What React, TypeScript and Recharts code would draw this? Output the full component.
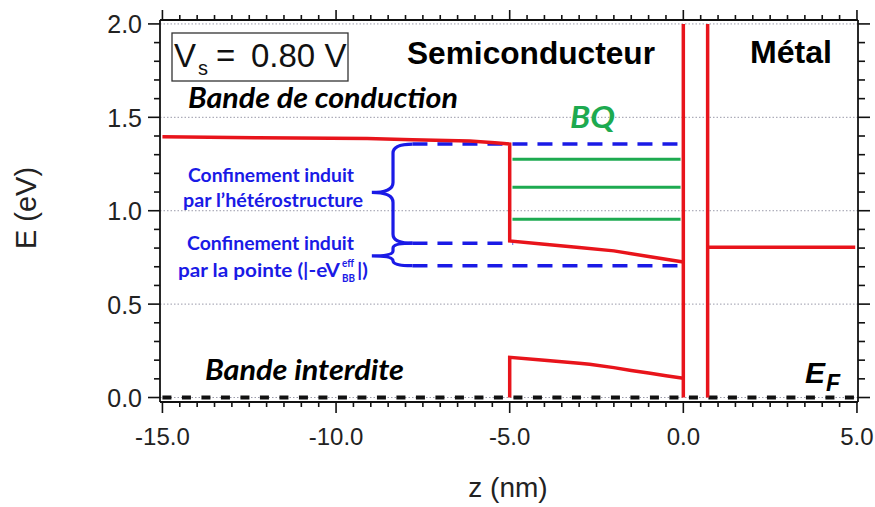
import React from 'react';
import { LineChart, Line, XAxis, YAxis, ReferenceLine } from 'recharts';

const W = 875;
const H = 507;
const Z_DOMAIN: [number, number] = [-15.07, 5.03];
const E_DOMAIN: [number, number] = [-0.024, 2.021];
const PLOT = { left: 160, right: 858, top: 20, bottom: 402 };

const ARIAL = '"Liberation Sans", Arial, sans-serif';
const CALIBRI = 'Lato, "Open Sans", sans-serif';
const AXIS = '#111';
const RED = '#e8141b';
const BLUE = '#1a1ae6';
const GREEN = '#1daa50';

// tick labels
const xMajor = [-15, -10, -5, 0, 5];
const yMajor = [0, 0.5, 1.0, 1.5, 2.0];
const xTicks = Array.from({ length: 41 }, (_, i) => -15 + i * 0.5);
const yTicks = Array.from({ length: 21 }, (_, i) => i / 10);

// conduction band, semiconductor side (z in nm, E in eV)
const cbOuter = [
  { z: -15, E: 1.396 },
  { z: -12.25, E: 1.391 },
  { z: -9.1, E: 1.386 },
  { z: -7.8, E: 1.38 },
  { z: -6.15, E: 1.373 },
  { z: -5.43, E: 1.364 },
  { z: -5, E: 1.357 },
  { z: -5, E: 0.838 },
  { z: -4, E: 0.82 },
  { z: -3, E: 0.803 },
  { z: -2, E: 0.785 },
  { z: -1, E: 0.755 },
  { z: 0, E: 0.726 },
];
// valence band top in the quantum well region
const vbWell = [
  { z: -5, E: 0 },
  { z: -5, E: 0.215 },
  { z: -4, E: 0.199 },
  { z: -3, E: 0.183 },
  { z: -2.7, E: 0.178 },
  { z: -2, E: 0.16 },
  { z: -1.5, E: 0.145 },
  { z: -1, E: 0.131 },
  { z: -0.5, E: 0.117 },
  { z: 0, E: 0.103 },
];
// vacuum barrier edges and metal Fermi level
const barrierLeft = [{ z: 0, E: 0 }, { z: 0, E: 2.0 }];
const barrierRight = [{ z: 0.7, E: 0 }, { z: 0.7, E: 2.0 }];
const metalLevel = [{ z: 0.7, E: 0.805 }, { z: 4.95, E: 0.805 }];
// quantum bound states (BQ)
const bq1 = [{ z: -4.92, E: 1.275 }, { z: -0.08, E: 1.275 }];
const bq2 = [{ z: -4.92, E: 1.126 }, { z: -0.08, E: 1.126 }];
const bq3 = [{ z: -4.92, E: 0.954 }, { z: -0.08, E: 0.954 }];
// confinement reference levels (blue dashed)
const confTop = [{ z: -7.8, E: 1.357 }, { z: 0, E: 1.357 }];
const confMid = [{ z: -7.8, E: 0.826 }, { z: -4.9, E: 0.826 }];
const confBot = [{ z: -7.8, E: 0.706 }, { z: 0, E: 0.706 }];
// Fermi level
const fermi = [{ z: -15, E: 0 }, { z: 4.95, E: 0 }];

const isMajor = (v: number, step: number) => Math.abs(v / step - Math.round(v / step)) < 1e-6;

const px = (z: number) => PLOT.left + ((z - Z_DOMAIN[0]) / (Z_DOMAIN[1] - Z_DOMAIN[0])) * (PLOT.right - PLOT.left);
const py = (e: number) => PLOT.top + ((E_DOMAIN[1] - e) / (E_DOMAIN[1] - E_DOMAIN[0])) * (PLOT.bottom - PLOT.top);

const BottomTick = ({ x, y, payload }: any) => {
  const major = isMajor(payload.value, 5);
  return (
    <g>
      <line x1={x} x2={x} y1={y} y2={y + (major ? 11 : 5)} stroke={AXIS} strokeWidth={1.6} />
      {major && (
        <text x={x} y={y + 43} textAnchor="middle" fontSize={24} fill="#222" fontFamily={ARIAL}>
          {payload.value.toFixed(1)}
        </text>
      )}
    </g>
  );
};

const TopTick = ({ x, y, payload }: any) => {
  const major = isMajor(payload.value, 5);
  return <line x1={x} x2={x} y1={y} y2={y - (major ? 10 : 5)} stroke={AXIS} strokeWidth={1.6} />;
};

const LeftTick = ({ x, y, payload }: any) => {
  const major = isMajor(payload.value, 0.5);
  return (
    <g>
      <line x1={x} x2={x - (major ? 12 : 6)} y1={y} y2={y} stroke={AXIS} strokeWidth={1.6} />
      {major && (
        <text x={x - 18} y={y + 9.5} textAnchor="end" fontSize={25} fill="#222" fontFamily={ARIAL}>
          {payload.value.toFixed(1)}
        </text>
      )}
    </g>
  );
};

const RightTick = ({ x, y, payload }: any) => {
  const major = isMajor(payload.value, 0.5);
  return <line x1={x} x2={x + (major ? 12 : 7)} y1={y} y2={y} stroke={AXIS} strokeWidth={1.6} />;
};

// curly brace opening to the right, between two energies
const bracePath = (eTop: number, eBot: number, eTip: number, r: number, r2: number) => {
  const xs = px(-8.36);
  const xt = px(-8.97);
  const xe = px(-7.8);
  const y1 = py(eTop);
  const y2 = py(eBot);
  const ym = py(eTip);
  return `M ${xe} ${y1} Q ${xs} ${y1} ${xs} ${y1 + r} L ${xs} ${ym - r2} Q ${xs} ${ym} ${xt} ${ym} Q ${xs} ${ym} ${xs} ${ym + r2} L ${xs} ${y2 - r} Q ${xs} ${y2} ${xe} ${y2}`;
};

const series = [
  { key: 'cb', data: cbOuter, color: RED, width: 3.5 },
  { key: 'vb', data: vbWell, color: RED, width: 3.5 },
  { key: 'bl', data: barrierLeft, color: RED, width: 3.5 },
  { key: 'br', data: barrierRight, color: RED, width: 3.5 },
  { key: 'metal', data: metalLevel, color: RED, width: 3.5 },
  { key: 'bq1', data: bq1, color: GREEN, width: 3 },
  { key: 'bq2', data: bq2, color: GREEN, width: 3 },
  { key: 'bq3', data: bq3, color: GREEN, width: 3 },
];

const dashed = [
  { key: 'ct', data: confTop, color: BLUE, width: 3.5, dash: '15 10' },
  { key: 'cm', data: confMid, color: BLUE, width: 3.5, dash: '15 10' },
  { key: 'cbt', data: confBot, color: BLUE, width: 3.5, dash: '15 10' },
  { key: 'ef', data: fermi, color: '#111', width: 4, dash: '9 10.5' },
];

export default function App() {
  return (
    <div style={{ position: 'relative', width: W, height: H, background: '#fff' }}>
      <style>{'body{margin:0}'}</style>
      <LineChart width={W} height={H} margin={{ top: 0, right: 0, left: 100, bottom: 45 }}>
        <XAxis
          xAxisId="b"
          dataKey="z"
          type="number"
          domain={Z_DOMAIN}
          allowDataOverflow
          ticks={xTicks}
          interval={0}
          tickSize={0}
          tickMargin={0}
          tickLine={false}
          tick={<BottomTick />}
          height={60}
          axisLine={{ stroke: AXIS, strokeWidth: 1.8 }}
        />
        <XAxis
          xAxisId="t"
          orientation="top"
          dataKey="z"
          type="number"
          domain={Z_DOMAIN}
          allowDataOverflow
          ticks={xTicks}
          interval={0}
          tickSize={0}
          tickMargin={0}
          tickLine={false}
          tick={<TopTick />}
          height={20}
          axisLine={{ stroke: AXIS, strokeWidth: 1.8 }}
        />
        <YAxis
          yAxisId="l"
          type="number"
          domain={E_DOMAIN}
          allowDataOverflow
          ticks={yTicks}
          interval={0}
          tickSize={0}
          tickMargin={0}
          tickLine={false}
          tick={<LeftTick />}
          width={60}
          axisLine={{ stroke: AXIS, strokeWidth: 1.8 }}
        />
        <YAxis
          yAxisId="r"
          orientation="right"
          type="number"
          domain={E_DOMAIN}
          allowDataOverflow
          ticks={yTicks}
          interval={0}
          tickSize={0}
          tickMargin={0}
          tickLine={false}
          tick={<RightTick />}
          width={17}
          axisLine={{ stroke: AXIS, strokeWidth: 1.8 }}
        />
        {yMajor.map((v) => (
          <ReferenceLine key={v} y={v} xAxisId="b" yAxisId="l" stroke="#9a9aaa" strokeDasharray="1.5 2" strokeWidth={1} />
        ))}
        {dashed.map((s) => (
          <Line
            key={s.key}
            xAxisId="b"
            yAxisId="l"
            data={s.data}
            dataKey="E"
            type="linear"
            stroke={s.color}
            strokeWidth={s.width}
            strokeDasharray={s.dash}
            dot={false}
            activeDot={false}
            isAnimationActive={false}
          />
        ))}
        {series.map((s) => (
          <Line
            key={s.key}
            xAxisId="b"
            yAxisId="l"
            data={s.data}
            dataKey="E"
            type="linear"
            stroke={s.color}
            strokeWidth={s.width}
            dot={false}
            activeDot={false}
            isAnimationActive={false}
          />
        ))}
      </LineChart>

      <svg width={W} height={H} style={{ position: 'absolute', left: 0, top: 0, pointerEvents: 'none' }}>
        {/* axis titles */}
        <text x={36} y={208} transform="rotate(-90 36 208)" textAnchor="middle" fontSize={29} fill="#222" fontFamily={ARIAL}>
          E (eV)
        </text>
        <text x={508} y={497} textAnchor="middle" fontSize={28} fill="#222" fontFamily={ARIAL}>
          z (nm)
        </text>

        {/* bias box */}
        <rect x={172} y={33} width={176} height={48} fill="#fff" stroke="#333" strokeWidth={1.3} />
        <text x={174} y={67} fontSize={33} fill="#111" fontFamily={ARIAL}>V</text>
        <text x={198} y={75} fontSize={20} fill="#111" fontFamily={ARIAL}>s</text>
        <text x={216} y={67} fontSize={33} fill="#111" fontFamily={ARIAL}>=</text>
        <text x={251} y={67} fontSize={33} fill="#111" fontFamily={ARIAL}>0.80 V</text>

        <text x={407} y={64} fontSize={31} fontWeight="bold" fill="#000" fontFamily={ARIAL} textLength={248} lengthAdjust="spacingAndGlyphs">
          Semiconducteur
        </text>
        <text x={750} y={63} fontSize={31} fontWeight="bold" fill="#000" fontFamily={ARIAL} textLength={82} lengthAdjust="spacingAndGlyphs">
          Métal
        </text>

        <text x={188} y={108} fontSize={28} fontWeight="bold" fontStyle="italic" fill="#000" fontFamily={CALIBRI} textLength={270} lengthAdjust="spacingAndGlyphs">
          Bande de conduction
        </text>
        <text x={570} y={128} fontSize={30} fontWeight="bold" fontStyle="italic" fill={GREEN} fontFamily={CALIBRI} textLength={45} lengthAdjust="spacingAndGlyphs">
          BQ
        </text>
        <text x={205} y={380} fontSize={28} fontWeight="bold" fontStyle="italic" fill="#000" fontFamily={CALIBRI} textLength={199} lengthAdjust="spacingAndGlyphs">
          Bande interdite
        </text>
        <text x={805} y={383} fontSize={30} fontWeight="bold" fontStyle="italic" fill="#000" fontFamily={ARIAL}>E</text>
        <text x={826} y={391} fontSize={23} fontWeight="bold" fontStyle="italic" fill="#000" fontFamily={ARIAL}>F</text>

        {/* confinement annotations */}
        <g fill={BLUE} fontFamily={CALIBRI} fontWeight="bold" fontSize={19}>
          <text x={188} y={182} textLength={166} lengthAdjust="spacingAndGlyphs">Confinement induit</text>
          <text x={183} y={207} textLength={180} lengthAdjust="spacingAndGlyphs">par l’hétérostructure</text>
          <text x={187} y={250} textLength={167} lengthAdjust="spacingAndGlyphs">Confinement induit</text>
          <text x={178} y={277} textLength={162} lengthAdjust="spacingAndGlyphs">par la pointe (|-eV</text>
          <text x={342} y={267} fontSize={12} textLength={12} lengthAdjust="spacingAndGlyphs">eff</text>
          <text x={342} y={282} fontSize={12} textLength={13} lengthAdjust="spacingAndGlyphs">BB</text>
          <text x={357} y={277} textLength={11} lengthAdjust="spacingAndGlyphs">|)</text>
        </g>
        <path d={bracePath(1.357, 0.826, 1.098, 9, 10)} fill="none" stroke={BLUE} strokeWidth={3.2} />
        <path d={bracePath(0.826, 0.706, 0.758, 5, 5)} fill="none" stroke={BLUE} strokeWidth={3.2} />
      </svg>
    </div>
  );
}
